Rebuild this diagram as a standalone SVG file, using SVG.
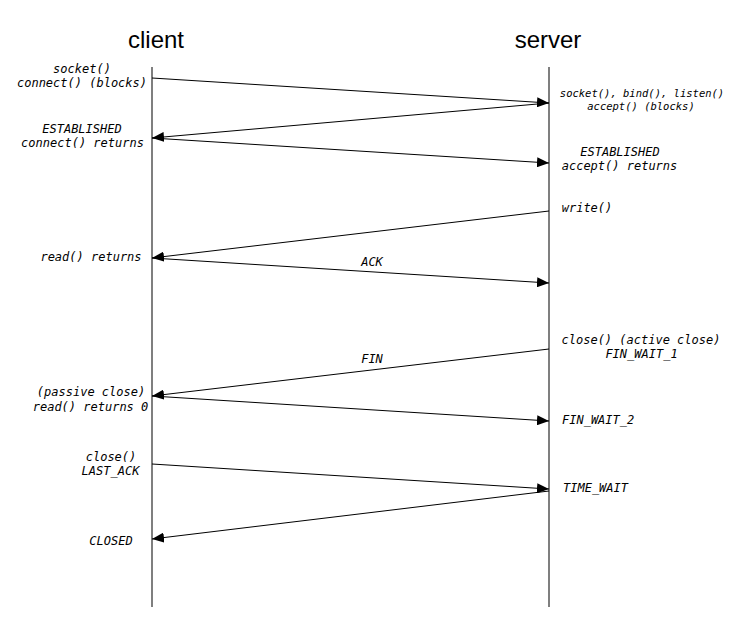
<svg xmlns="http://www.w3.org/2000/svg" width="733" height="632" viewBox="0 0 733 632">
  <style>
    .title { font-family: "Liberation Sans", Arial, sans-serif; font-size: 24px; fill: #000; text-anchor: middle; }
    .lbl { font-family: "DejaVu Sans Mono", monospace; font-style: italic; font-size: 12px; fill: #000; text-anchor: middle; }
    .sm { font-size: 10.5px; }
    .start { text-anchor: start; }
    .life { stroke: #555; stroke-width: 1.5; fill: none; }
    .msg { stroke: #000; stroke-width: 1; fill: none; marker-end: url(#arrow); }
  </style>
  <defs>
    <marker id="arrow" viewBox="0 0 12 10" refX="12" refY="5" markerWidth="12" markerHeight="10" markerUnits="userSpaceOnUse" orient="auto">
      <path d="M0,0 L12,5 L0,10 Z" fill="#000"/>
    </marker>
  </defs>
  <rect width="733" height="632" fill="#fff"/>

  <!-- participants -->
  <g id="client">
    <text class="title" x="156" y="48">client</text>
    <line class="life" x1="152" y1="67" x2="152" y2="607"/>
  </g>
  <g id="server">
    <text class="title" x="548" y="48">server</text>
    <line class="life" x1="549" y1="67" x2="549" y2="607"/>
  </g>

  <!-- messages -->
  <g id="connectors">
    <line class="msg" x1="152" y1="78" x2="549" y2="103"/>
    <line class="msg" x1="549" y1="103" x2="152" y2="138"/>
    <line class="msg" x1="152" y1="138" x2="549" y2="163"/>
    <line class="msg" x1="549" y1="211" x2="152" y2="258"/>
    <line class="msg" x1="152" y1="258" x2="549" y2="283"/>
    <line class="msg" x1="549" y1="349" x2="152" y2="396"/>
    <line class="msg" x1="152" y1="396" x2="549" y2="421"/>
    <line class="msg" x1="152" y1="464" x2="549" y2="489"/>
    <line class="msg" x1="549" y1="491" x2="152" y2="539"/>
    <text class="lbl" x="372" y="266">ACK</text>
    <text class="lbl" x="372" y="363">FIN</text>
  </g>

  <!-- client-side notes -->
  <g id="client-notes">
    <text class="lbl" x="82" y="73">socket()</text>
    <text class="lbl" x="82" y="87">connect() (blocks)</text>
    <text class="lbl" x="82" y="133">ESTABLISHED</text>
    <text class="lbl" x="82.5" y="147">connect() returns</text>
    <text class="lbl" x="91" y="261">read() returns</text>
    <text class="lbl" x="91" y="396">(passive close)</text>
    <text class="lbl" x="90.5" y="411">read() returns 0</text>
    <text class="lbl" x="111" y="461">close()</text>
    <text class="lbl" x="110.5" y="475">LAST_ACK</text>
    <text class="lbl" x="111" y="545">CLOSED</text>
  </g>

  <!-- server-side notes -->
  <g id="server-notes">
    <text class="lbl sm" x="642" y="97">socket(), bind(), listen()</text>
    <text class="lbl sm" x="641" y="110">accept() (blocks)</text>
    <text class="lbl" x="620" y="156">ESTABLISHED</text>
    <text class="lbl" x="619.5" y="170">accept() returns</text>
    <text class="lbl" x="587" y="212">write()</text>
    <text class="lbl" x="641" y="344">close() (active close)</text>
    <text class="lbl" x="641.5" y="358">FIN_WAIT_1</text>
    <text class="lbl start" x="562" y="424">FIN_WAIT_2</text>
    <text class="lbl start" x="563" y="492">TIME_WAIT</text>
  </g>
</svg>
